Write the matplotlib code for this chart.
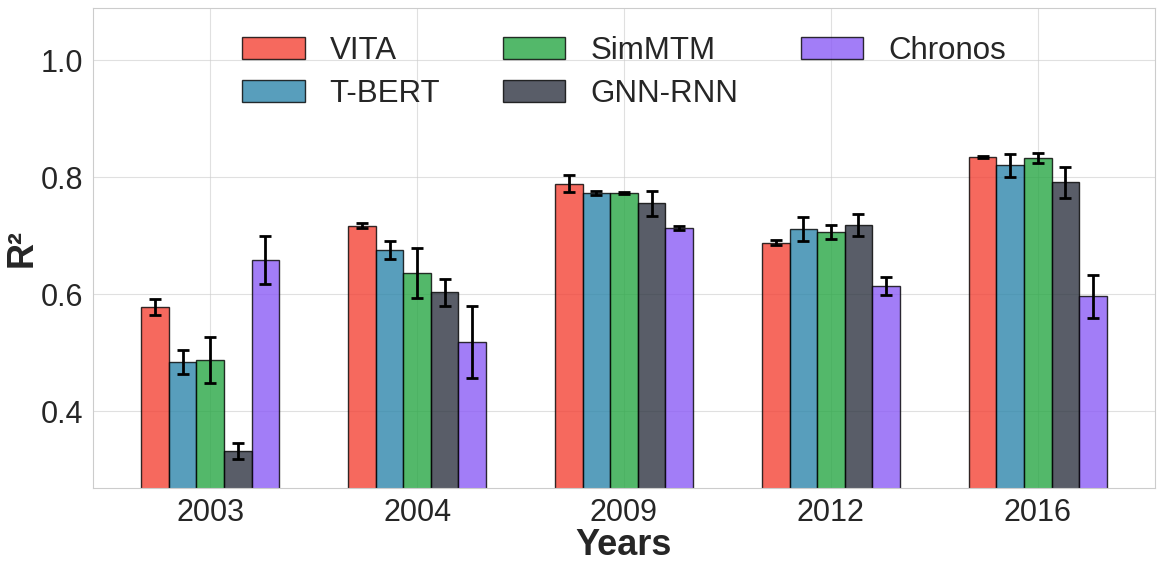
import numpy as np
import matplotlib
matplotlib.use("Agg")
import matplotlib.pyplot as plt
import seaborn as sns

years = ["2003", "2004", "2009", "2012", "2016"]
models = ["VITA", "T-BERT", "SimMTM", "GNN-RNN", "Chronos"]

vita = [0.578, 0.717, 0.789, 0.688, 0.834]
vita_err = [0.013, 0.004, 0.015, 0.004, 0.002]
tbert = [0.484, 0.675, 0.773, 0.711, 0.820]
tbert_err = [0.021, 0.015, 0.003, 0.021, 0.020]
simmtm = [0.487, 0.636, 0.773, 0.706, 0.832]
simmtm_err = [0.039, 0.043, 0.002, 0.0125, 0.0085]
gnnrnn = [0.332, 0.603, 0.755, 0.718, 0.791]
gnnrnn_err = [0.013, 0.023, 0.022, 0.019, 0.027]
chronos = [0.659, 0.518, 0.713, 0.614, 0.596]
chronos_err = [0.041, 0.062, 0.004, 0.016, 0.036]

colors = ["#F44336", "#2E86AB", "#28A745", "#2F3542", "#8B5CF6"]

sns.set_style("whitegrid")
plt.rcParams["font.family"] = ["Liberation Sans", "DejaVu Sans"]

fig = plt.figure(figsize=(11.62, 5.66), dpi=100)
ax = fig.add_axes([0.080, 0.138, 0.914, 0.848])

series = [vita, tbert, simmtm, gnnrnn, chronos]
errors = [vita_err, tbert_err, simmtm_err, gnnrnn_err, chronos_err]
x = np.arange(len(years))
width = 0.8 / 6

for i, (vals, errs) in enumerate(zip(series, errors)):
    ax.bar(x + (i - 2) * width, vals, width, yerr=errs, label=models[i],
           color=colors[i], alpha=0.8, edgecolor="black", linewidth=1.0,
           error_kw=dict(ecolor="black", elinewidth=2, capsize=4, capthick=2))

ax.set_xticks(x)
ax.set_xticklabels(years, fontsize=22)
ax.tick_params(axis="y", labelsize=22)
ax.set_yticks([0.4, 0.6, 0.8, 1.0])
ax.set_ylim(0.269, 1.089)
ax.set_xlabel("Years", fontsize=26, fontweight="bold", labelpad=0)
ax.set_ylabel("R²", fontsize=26, fontweight="bold", labelpad=1)
ax.grid(True, alpha=0.6)

ax.legend(loc="upper center", ncol=3, fontsize=22.5, frameon=False,
          labelspacing=0.4)

fig.savefig("out.png", dpi=100)
